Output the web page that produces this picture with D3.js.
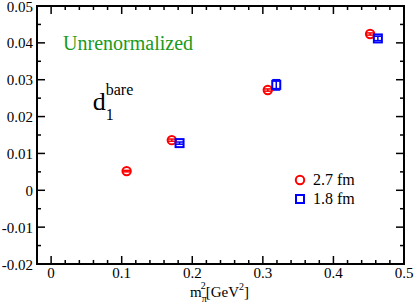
<!DOCTYPE html>
<html>
<head>
<meta charset="utf-8">
<script src="https://cdn.jsdelivr.net/npm/d3@7"></script>
<style>
  body { margin: 0; background: #fff; }
</style>
</head>
<body>
<div id="chart"></div>
<script>
// data
var xTicks = [0, 0.1, 0.2, 0.3, 0.4, 0.5];
var xTickLabels = ["0", "0.1", "0.2", "0.3", "0.4", "0.5"];
var yTicks = [-0.02, -0.01, 0, 0.01, 0.02, 0.03, 0.04, 0.05];
var yTickLabels = ["-0.02", "-0.01", "0", "0.01", "0.02", "0.03", "0.04", "0.05"];

var mpi2_27 = [0.107, 0.171, 0.307, 0.452];
var d1_27 = [0.0052, 0.0136, 0.0272, 0.0424];
var err_27 = [0.0002, 0.0003, 0.0003, 0.0003];

var mpi2_18 = [0.182, 0.319, 0.463];
var d1_18 = [0.0128, 0.0286, 0.0412];
var err_18 = [0.0003, 0.0014, 0.0006];

var seriesNames = ["2.7 fm", "1.8 fm"];

var width = 415, height = 306;
var margin = {top: 6, right: 11, bottom: 42, left: 37};
var w = width - margin.left - margin.right;
var h = height - margin.top - margin.bottom;
var serif = "'Liberation Serif', 'Times New Roman', 'DejaVu Serif', serif";

var svg = d3.select("#chart").append("svg")
    .attr("width", width)
    .attr("height", height)
    .attr("font-family", serif);

var g = svg.append("g")
    .attr("transform", "translate(" + margin.left + "," + margin.top + ")");

var x = d3.scaleLinear().domain([-0.02, 0.5]).range([0, w]);
var y = d3.scaleLinear().domain([-0.02, 0.05]).range([h, 0]);

var xMinor = d3.range(-0.02, 0.5001, 0.02).filter(function(d) {
    return Math.abs(d * 10 - Math.round(d * 10)) > 1e-6;
});
var yMinor = d3.range(-0.015, 0.05, 0.01);

// ticks, all pointing inward
function drawTicks(axis, vals, len) {
    vals.forEach(function(v) {
        if (axis === "x") {
            g.append("line").attr("x1", x(v)).attr("x2", x(v)).attr("y1", h).attr("y2", h - len)
                .attr("stroke", "#000").attr("stroke-width", 1.5);
            g.append("line").attr("x1", x(v)).attr("x2", x(v)).attr("y1", 0).attr("y2", len)
                .attr("stroke", "#000").attr("stroke-width", 1.5);
        } else {
            g.append("line").attr("x1", 0).attr("x2", len).attr("y1", y(v)).attr("y2", y(v))
                .attr("stroke", "#000").attr("stroke-width", 1.5);
            g.append("line").attr("x1", w).attr("x2", w - len).attr("y1", y(v)).attr("y2", y(v))
                .attr("stroke", "#000").attr("stroke-width", 1.5);
        }
    });
}
drawTicks("x", xTicks, 8);
drawTicks("x", xMinor, 4);
drawTicks("y", yTicks, 8);
drawTicks("y", yMinor, 4);

g.append("rect")
    .attr("x", 0).attr("y", 0).attr("width", w).attr("height", h)
    .attr("fill", "none").attr("stroke", "#000").attr("stroke-width", 2);

// tick labels
g.selectAll(".xl").data(xTicks).enter().append("text")
    .attr("class", "xl")
    .attr("x", function(d) { return x(d); })
    .attr("y", h + 14)
    .attr("text-anchor", "middle")
    .attr("font-size", 15)
    .text(function(d, i) { return xTickLabels[i]; });

g.selectAll(".yl").data(yTicks).enter().append("text")
    .attr("class", "yl")
    .attr("x", -4)
    .attr("y", function(d) { return y(d) + 5.5; })
    .attr("text-anchor", "end")
    .attr("font-size", 15)
    .text(function(d, i) { return yTickLabels[i]; });

// axis title m_pi^2 [GeV^2]
var xt = svg.append("text")
    .attr("x", 190)
    .attr("y", 297)
    .attr("font-size", 15);
xt.append("tspan").text("m");
xt.append("tspan").attr("font-size", 10).attr("dy", 5).text("π");
xt.append("tspan").attr("font-size", 10).attr("dx", -6).attr("dy", -13).text("2");
xt.append("tspan").attr("dy", 8).text("[GeV");
xt.append("tspan").attr("font-size", 10).attr("dy", -7).text("2");
xt.append("tspan").attr("dy", 7).text("]");

// labels inside the plot
g.append("text")
    .attr("x", x(0.017))
    .attr("y", y(0.0381))
    .attr("fill", "#1a9a1a")
    .attr("font-size", 20)
    .text("Unrenormalized");

var dl = g.append("text")
    .attr("x", x(0.059))
    .attr("y", y(0.0218))
    .attr("font-size", 26);
dl.append("tspan").text("d");
dl.append("tspan").attr("font-size", 16).attr("dy", 10).text("1");
dl.append("tspan").attr("font-size", 16).attr("dx", -8).attr("dy", -25).text("bare");

// error bars
function errBars(xs, ys, es, color, cap) {
    xs.forEach(function(xv, i) {
        var cx = x(xv);
        g.append("line").attr("x1", cx).attr("x2", cx)
            .attr("y1", y(ys[i] - es[i])).attr("y2", y(ys[i] + es[i]))
            .attr("stroke", color).attr("stroke-width", 1.5);
        [ys[i] - es[i], ys[i] + es[i]].forEach(function(v) {
            g.append("line").attr("x1", cx - cap).attr("x2", cx + cap)
                .attr("y1", y(v)).attr("y2", y(v))
                .attr("stroke", color).attr("stroke-width", 1.5);
        });
    });
}
errBars(mpi2_27, d1_27, err_27, "#ff0000", 4);
errBars(mpi2_18, d1_18, err_18, "#0000ff", 4);

g.selectAll(".c27").data(mpi2_27).enter().append("circle")
    .attr("class", "c27")
    .attr("cx", function(d) { return x(d); })
    .attr("cy", function(d, i) { return y(d1_27[i]); })
    .attr("r", 4.2)
    .attr("fill", "none").attr("stroke", "#ff0000").attr("stroke-width", 2);

g.selectAll(".s18").data(mpi2_18).enter().append("rect")
    .attr("class", "s18")
    .attr("x", function(d) { return x(d) - 4; })
    .attr("y", function(d, i) { return y(d1_18[i]) - 4; })
    .attr("width", 8).attr("height", 8)
    .attr("fill", "none").attr("stroke", "#0000ff").attr("stroke-width", 2);

// legend
var lg = svg.append("g").attr("transform", "translate(300,180)");
lg.append("circle").attr("cx", 0).attr("cy", 0).attr("r", 4.2)
    .attr("fill", "none").attr("stroke", "#ff0000").attr("stroke-width", 2);
lg.append("rect").attr("x", -4).attr("y", 15).attr("width", 8).attr("height", 8)
    .attr("fill", "none").attr("stroke", "#0000ff").attr("stroke-width", 2);
lg.selectAll("text").data(seriesNames).enter().append("text")
    .attr("x", 13)
    .attr("y", function(d, i) { return 5 + i * 19; })
    .attr("font-size", 16)
    .text(function(d) { return d; });
</script>
</body>
</html>
